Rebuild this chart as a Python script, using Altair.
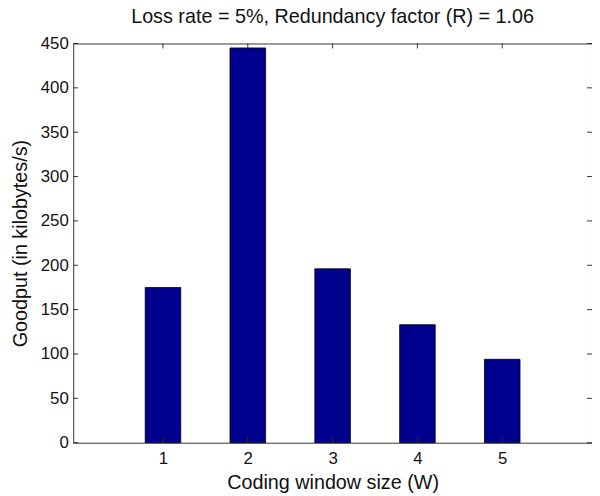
import altair as alt
import pandas as pd

windows = [1, 2, 3, 4, 5]
goodput = [175, 445, 196, 133, 94]
x_ticks = [1, 2, 3, 4, 5]
y_ticks = [0, 50, 100, 150, 200, 250, 300, 350, 400, 450]

W, H = 525, 404
FONT = "Liberation Sans"

bars_df = pd.DataFrame({"W": windows, "Goodput": goodput})
xt_df = pd.DataFrame({"W": x_ticks})
yt_df = pd.DataFrame({"Goodput": y_ticks})

xscale = alt.Scale(domain=[0, 6], nice=False, zero=False)
yscale = alt.Scale(domain=[0, 450], nice=False)

bars = alt.Chart(bars_df).mark_bar(
    size=36, color="#00008F", stroke="#000000", strokeWidth=0.8
).encode(
    x=alt.X("W:Q", scale=xscale,
            axis=alt.Axis(values=x_ticks, format="d", title="Coding window size (W)", grid=False,
                          ticks=False, tickSize=0, domain=False, labelPadding=8,
                          labelFontSize=17, titleFontSize=20, labelFont=FONT, titleFont=FONT,
                          labelColor="#111", titleColor="#111", titleFontWeight="normal",
                          titleX=W / 2, titleY=46, titleBaseline="alphabetic")),
    y=alt.Y("Goodput:Q", scale=yscale,
            axis=alt.Axis(values=y_ticks, format="d", title="Goodput (in kilobytes/s)", grid=False,
                          ticks=False, tickSize=0, domain=False, labelPadding=5,
                          labelFontSize=17, titleFontSize=20, labelFont=FONT, titleFont=FONT,
                          labelColor="#111", titleColor="#111", titleFontWeight="normal",
                          titleAngle=270, titleX=-47, titleY=H / 2, titleBaseline="alphabetic",
                          titleAlign="center")),
)

tick_style = dict(color="#333", strokeWidth=1)
bottom_ticks = alt.Chart(xt_df).mark_rule(**tick_style).encode(
    x=alt.X("W:Q", scale=xscale), y=alt.value(H), y2=alt.value(H - 5))
top_ticks = alt.Chart(xt_df).mark_rule(**tick_style).encode(
    x=alt.X("W:Q", scale=xscale), y=alt.value(0), y2=alt.value(5))
left_ticks = alt.Chart(yt_df).mark_rule(**tick_style).encode(
    y=alt.Y("Goodput:Q", scale=yscale), x=alt.value(0), x2=alt.value(5))
right_ticks = alt.Chart(yt_df).mark_rule(**tick_style).encode(
    y=alt.Y("Goodput:Q", scale=yscale), x=alt.value(W - 5), x2=alt.value(W))

chart = alt.layer(bars, bottom_ticks, top_ticks, left_ticks, right_ticks).properties(
    width=W, height=H,
    background="white",
    title=alt.TitleParams("Loss rate = 5%, Redundancy factor (R) = 1.06",
                          font=FONT, fontSize=20, fontWeight="normal", color="#111",
                          anchor="middle", baseline="alphabetic", offset=-8),
    autosize=alt.AutoSizeParams(type="none"),
    padding={"left": 66, "top": 33, "right": 0, "bottom": 50},
).configure_view(stroke="#333", strokeWidth=1)

chart.save("out.html", embed_options={"renderer": "svg", "actions": False})
